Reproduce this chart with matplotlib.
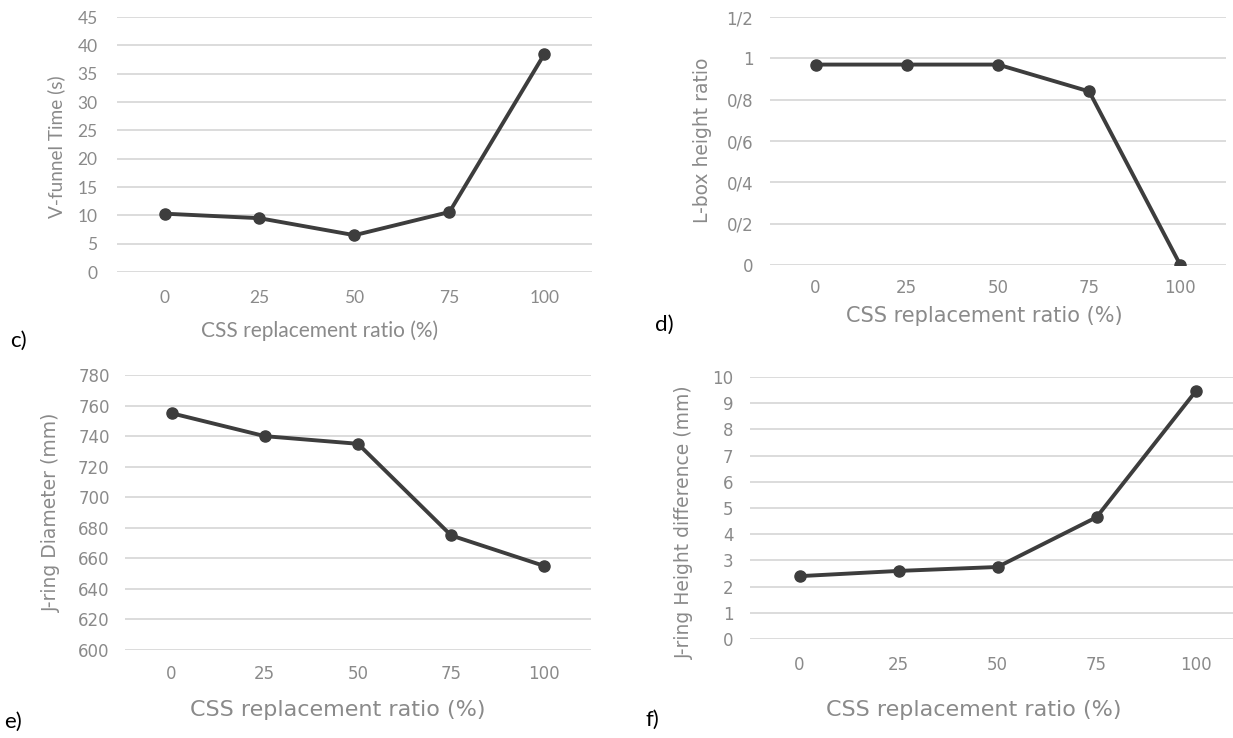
import matplotlib
matplotlib.use("Agg")
from matplotlib import pyplot as plt

# data
css_ratio = ['0', '25', '50', '75', '100']
vfunnel_time = [10.3, 9.5, 6.5, 10.6, 38.5]
lbox_ratio = [0.97, 0.97, 0.97, 0.84, 0.0]
jring_diameter = [755, 740, 735, 675, 655]
jring_height = [2.4, 2.6, 2.75, 4.65, 9.45]

lbox_ticks = [0, 0.2, 0.4, 0.6, 0.8, 1.0, 1.2]
lbox_ticklabels = ['0', '0/2', '0/4', '0/6', '0/8', '1', '1/2']

LINE = '#3d3d3d'
GRID = '#d9d9d9'
TEXT = '#8a8a8a'


def panel(fig, rect, values, ylim, yticks, ylabel, font, xlab_xy, ylab_xy,
          ypad, xpad, yticklabels=None, fs=12, xlfs=15, ylfs=13.5):
    """one line panel in the office-chart look"""
    ax = fig.add_axes(rect)
    x = list(range(len(css_ratio)))
    ax.plot(x, values, color=LINE, lw=2.8, marker='o', ms=8, zorder=3)
    ax.set_xlim(-0.5, len(css_ratio) - 0.5)
    ax.set_ylim(*ylim)
    ax.set_yticks(yticks)
    if yticklabels is not None:
        ax.set_yticklabels(yticklabels)
    ax.set_xticks(x)
    ax.set_xticklabels(css_ratio)
    ax.grid(axis='y', color=GRID, lw=1.3)
    ax.set_axisbelow(True)
    for s in ax.spines.values():
        s.set_visible(False)
    ax.tick_params(axis='y', length=0, pad=ypad, labelcolor=TEXT, labelsize=fs)
    ax.tick_params(axis='x', length=0, pad=xpad, labelcolor=TEXT, labelsize=fs)
    for t in ax.get_xticklabels() + ax.get_yticklabels():
        t.set_family(font)
    ax.set_xlabel('CSS replacement ratio (%)', color=TEXT, fontsize=xlfs, family=font)
    ax.set_ylabel(ylabel, color=TEXT, fontsize=ylfs, family=font)
    ax.xaxis.set_label_coords(*xlab_xy)
    ax.yaxis.set_label_coords(*ylab_xy)
    return ax


fig = plt.figure(figsize=(12.33, 7.38), dpi=100)

# c)
panel(fig, [0.0949, 0.6314, 0.3852, 0.3455], vfunnel_time, (0, 45),
      range(0, 46, 5), 'V-funnel Time (s)', 'Lato',
      (0.427, -0.188), (-0.110, 0.49), ypad=14, xpad=13,
      fs=12.5, xlfs=15, ylfs=13.7)

# d)
panel(fig, [0.6245, 0.6409, 0.3698, 0.3360], lbox_ratio, (0, 1.2),
      lbox_ticks, 'L-box height ratio', 'DejaVu Sans',
      (0.471, -0.165), (-0.127, 0.504), ypad=12, xpad=10,
      yticklabels=lbox_ticklabels)

# e)
panel(fig, [0.1014, 0.1192, 0.3779, 0.3726], jring_diameter, (600, 780),
      range(600, 781, 20), 'J-ring Diameter (mm)', 'DejaVu Sans',
      (0.457, -0.182), (-0.138, 0.502), ypad=11, xpad=11, xlfs=16)

# f)
panel(fig, [0.6083, 0.1341, 0.4015, 0.3550], jring_height, (0, 10),
      range(0, 11, 1), 'J-ring Height difference (mm)', 'DejaVu Sans',
      (0.4525, -0.234), (-0.113, 0.447), ypad=12, xpad=12, xlfs=16)

# panel letters
for lab, x, y in [('c)', 10, 341), ('d)', 655, 325), ('e)', 4, 722), ('f)', 645, 720)]:
    fig.text(x / 1233, 1 - y / 738, lab, fontsize=16, family='Lato',
             color='black', ha='left', va='center')

plt.savefig('out.png', dpi=100)
